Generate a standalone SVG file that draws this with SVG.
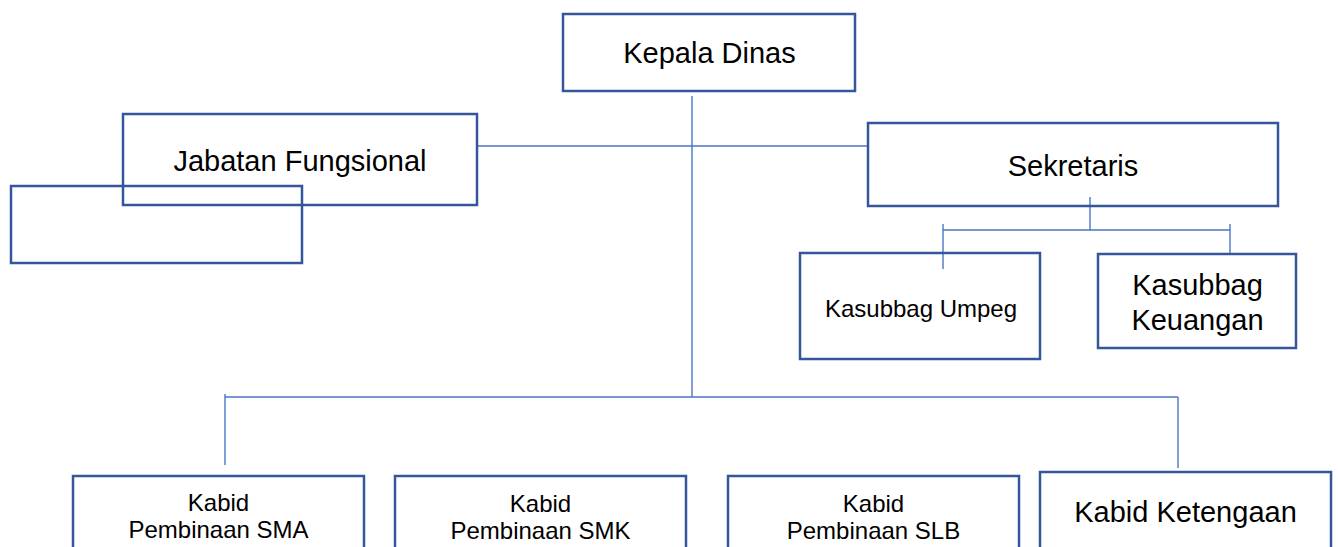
<svg xmlns="http://www.w3.org/2000/svg" width="1338" height="547" viewBox="0 0 1338 547">
<style>
.box{fill:none;stroke:#34569A;stroke-width:2.5}
.ln{stroke:#4A76C6;stroke-width:1.4;fill:none}
.t{font-family:"Liberation Sans",Arial,sans-serif;fill:#000;text-anchor:middle}
.l{font-size:29px}
.s{font-size:24px}
</style>
<rect width="1338" height="547" fill="#fff"/>
<g id="connectors">
<line class="ln" x1="692" y1="96" x2="692" y2="397"/>
<line class="ln" x1="477" y1="146" x2="868" y2="146"/>
<line class="ln" x1="225" y1="397" x2="1178" y2="397"/>
<line class="ln" x1="225" y1="394" x2="225" y2="465"/>
<line class="ln" x1="1178" y1="397" x2="1178" y2="468"/>
<line class="ln" x1="1090" y1="197" x2="1090" y2="230"/>
<line class="ln" x1="943" y1="230" x2="1230" y2="230"/>
<line class="ln" x1="943" y1="224" x2="943" y2="269"/>
<line class="ln" x1="1230" y1="224" x2="1230" y2="253"/>
</g>
<g id="kepala-dinas">
<rect class="box" x="563" y="14" width="292" height="77"/>
<text class="t l" x="709.5" y="63">Kepala Dinas</text>
</g>
<g id="jabatan-fungsional">
<rect class="box" x="123" y="114" width="354" height="91"/>
<text class="t l" x="300" y="171">Jabatan Fungsional</text>
</g>
<g id="empty-box">
<rect class="box" x="11" y="186" width="291" height="77"/>
</g>
<g id="sekretaris">
<rect class="box" x="868" y="123" width="410" height="83"/>
<text class="t l" x="1073" y="176">Sekretaris</text>
</g>
<g id="kasubbag-umpeg">
<rect class="box" x="800" y="253" width="240" height="106"/>
<text class="t s" x="921" y="317">Kasubbag Umpeg</text>
</g>
<g id="kasubbag-keuangan">
<rect class="box" x="1098" y="254" width="198" height="94"/>
<text class="t l" x="1197.5" y="295">Kasubbag</text>
<text class="t l" x="1197.5" y="330">Keuangan</text>
</g>
<g id="kabid-sma">
<rect class="box" x="73" y="476" width="291" height="90"/>
<text class="t s" x="218.5" y="511">Kabid</text>
<text class="t s" x="218.5" y="538">Pembinaan SMA</text>
</g>
<g id="kabid-smk">
<rect class="box" x="395" y="476" width="291" height="90"/>
<text class="t s" x="540.5" y="512">Kabid</text>
<text class="t s" x="540.5" y="539">Pembinaan SMK</text>
</g>
<g id="kabid-slb">
<rect class="box" x="728" y="476" width="291" height="90"/>
<text class="t s" x="873.5" y="512">Kabid</text>
<text class="t s" x="873.5" y="539">Pembinaan SLB</text>
</g>
<g id="kabid-ketengaan">
<rect class="box" x="1040" y="472" width="291" height="94"/>
<text class="t l" x="1185.5" y="522">Kabid Ketengaan</text>
</g>
</svg>
